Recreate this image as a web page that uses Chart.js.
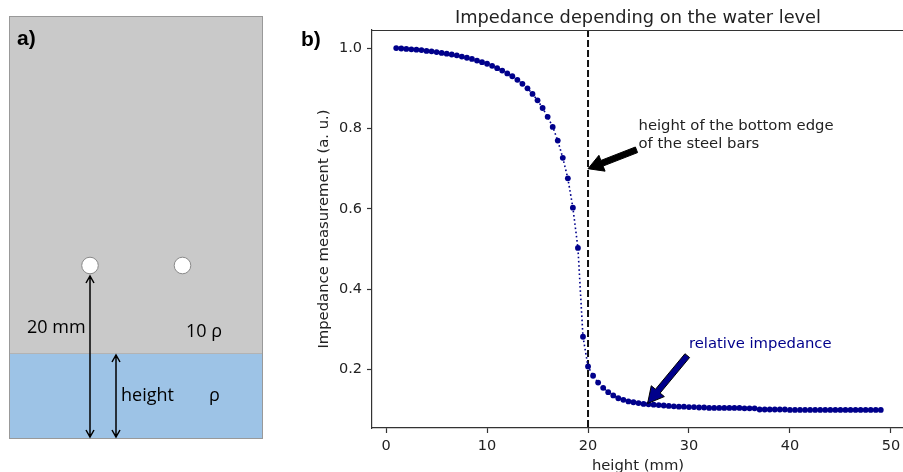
<!DOCTYPE html>
<html><head><meta charset="utf-8">
<script src="https://cdn.jsdelivr.net/npm/chart.js@4/dist/chart.umd.min.js"></script>
<style>html,body{margin:0;padding:0;background:#fff;overflow:hidden}#wrap{position:relative;width:903px;height:472px;overflow:hidden}</style>
</head><body><div id="wrap"><canvas id="c" width="908" height="472"></canvas></div>
<script>
// ---- data ----
const heights = [1,1.5,2,2.5,3,3.5,4,4.5,5,5.5,
  6,6.5,7,7.5,8,8.5,9,9.5,10,10.5,
  11,11.5,12,12.5,13,13.5,14,14.5,15,15.5,
  16,16.5,17,17.5,18,18.5,19,19.5,20,20.5,
  21,21.5,22,22.5,23,23.5,24,24.5,25,25.5,
  26,26.5,27,27.5,28,28.5,29,29.5,30,30.5,
  31,31.5,32,32.5,33,33.5,34,34.5,35,35.5,
  36,36.5,37,37.5,38,38.5,39,39.5,40,40.5,
  41,41.5,42,42.5,43,43.5,44,44.5,45,45.5,
  46,46.5,47,47.5,48,48.5,49];
const impedance = [1.000,0.999,0.998,0.997,0.996,0.995,0.993,0.992,0.990,0.988,
  0.986,0.984,0.982,0.979,0.976,0.973,0.969,0.965,0.961,0.956,
  0.950,0.944,0.937,0.930,0.921,0.911,0.900,0.886,0.870,0.851,
  0.829,0.804,0.770,0.727,0.676,0.603,0.503,0.282,0.208,0.185,
  0.168,0.155,0.144,0.136,0.129,0.125,0.121,0.119,0.117,0.115,
  0.114,0.113,0.112,0.111,0.110,0.109,0.108,0.108,0.107,0.107,
  0.106,0.106,0.105,0.105,0.105,0.105,0.105,0.105,0.105,0.104,
  0.104,0.104,0.101,0.101,0.101,0.101,0.101,0.101,0.100,0.100,
  0.100,0.100,0.100,0.100,0.100,0.100,0.100,0.100,0.100,0.100,
  0.100,0.100,0.100,0.100,0.100,0.100,0.100];
const xTicks = [0,10,20,30,40,50];
const yTicks = [0.2,0.4,0.6,0.8,1.0];
const steelBarHeight = 20;
const chartTitle = 'Impedance depending on the water level';
const xLabel = 'height (mm)';
const yLabel = 'Impedance measurement (a. u.)';
const note1Lines = ['height of the bottom edge','of the steel bars'];
const note1Tip = [20, 0.70], note1Tail = [24.8, 0.747], note1Text = [25, 0.784];
const note2Label = 'relative impedance';
const note2Tip = [25.9, 0.116], note2Tail = [29.83, 0.235], note2Text = [30, 0.264];

const NAVY = '#00008b';
const TXT = '#222';
const DV = "'DejaVu Sans', sans-serif";

function fatArrow(ctx, x0, y0, x1, y1, w, hw, hl, fill, stroke) {
  const dx = x1 - x0, dy = y1 - y0, L = Math.hypot(dx, dy);
  const ux = dx / L, uy = dy / L, nx = -uy, ny = ux;
  const bx = x1 - ux * hl, by = y1 - uy * hl;
  ctx.beginPath();
  ctx.moveTo(x0 + nx * w / 2, y0 + ny * w / 2);
  ctx.lineTo(bx + nx * w / 2, by + ny * w / 2);
  ctx.lineTo(bx + nx * hw / 2, by + ny * hw / 2);
  ctx.lineTo(x1, y1);
  ctx.lineTo(bx - nx * hw / 2, by - ny * hw / 2);
  ctx.lineTo(bx - nx * w / 2, by - ny * w / 2);
  ctx.lineTo(x0 - nx * w / 2, y0 - ny * w / 2);
  ctx.closePath();
  ctx.fillStyle = fill; ctx.fill();
  ctx.strokeStyle = stroke; ctx.lineWidth = 1; ctx.stroke();
}

function dimArrow(ctx, x, yTop, yBot) {
  ctx.beginPath();
  ctx.moveTo(x, yTop); ctx.lineTo(x, yBot);
  ctx.moveTo(x - 4, yTop + 7); ctx.lineTo(x, yTop); ctx.lineTo(x + 4, yTop + 7);
  ctx.moveTo(x - 4, yBot - 7); ctx.lineTo(x, yBot); ctx.lineTo(x + 4, yBot - 7);
  ctx.strokeStyle = '#000'; ctx.lineWidth = 1.5; ctx.stroke();
}

function drawPanelA(ctx) {
  ctx.save();
  ctx.fillStyle = '#c9c9c9'; ctx.fillRect(9.5, 16.5, 253, 337);
  ctx.fillStyle = '#9dc3e6'; ctx.fillRect(9.5, 353.5, 253, 85);
  ctx.strokeStyle = '#b3b3b3'; ctx.lineWidth = 1;
  ctx.beginPath(); ctx.moveTo(9.5, 353.5); ctx.lineTo(262.5, 353.5); ctx.stroke();
  ctx.strokeStyle = '#999'; ctx.strokeRect(9.5, 16.5, 253, 422);
  [[90, 265.5], [182.5, 265.5]].forEach(([cx, cy]) => {
    ctx.beginPath(); ctx.arc(cx, cy, 8.3, 0, Math.PI * 2);
    ctx.fillStyle = '#fff'; ctx.fill();
    ctx.strokeStyle = '#8a8a8a'; ctx.lineWidth = 1; ctx.stroke();
  });
  dimArrow(ctx, 90, 276, 437);
  dimArrow(ctx, 116, 355, 437);
  ctx.fillStyle = '#000';
  ctx.font = "bold 21px 'Liberation Sans', Arial, sans-serif";
  ctx.textBaseline = 'alphabetic'; ctx.textAlign = 'left';
  ctx.fillText('a)', 17, 45);
  ctx.font = "18px 'Open Sans', sans-serif";
  ctx.fillText('20 mm', 27, 333);
  ctx.fillText('10 ρ', 186, 337);
  ctx.fillText('height', 121, 401);
  ctx.fillText('ρ', 209, 401);
  ctx.restore();
}

const decor = {
  id: 'decor',
  beforeDraw(chart) {
    const ctx = chart.ctx;
    ctx.save(); ctx.fillStyle = '#fff'; ctx.fillRect(0, 0, chart.width, chart.height); ctx.restore();
    drawPanelA(ctx);
  },
  beforeDatasetsDraw(chart) {
    const ctx = chart.ctx, a = chart.chartArea, xs = chart.scales.x;
    const px = xs.getPixelForValue(steelBarHeight);
    ctx.save();
    ctx.strokeStyle = '#111'; ctx.lineWidth = 2; ctx.setLineDash([7, 3]);
    ctx.beginPath(); ctx.moveTo(px, a.top); ctx.lineTo(px, a.bottom); ctx.stroke();
    ctx.restore();
  },
  afterDraw(chart) {
    const ctx = chart.ctx, a = chart.chartArea, xs = chart.scales.x, ys = chart.scales.y;
    const P = (p) => [xs.getPixelForValue(p[0]), ys.getPixelForValue(p[1])];
    ctx.save();
    // top spine
    ctx.strokeStyle = '#333'; ctx.lineWidth = 1.2;
    ctx.beginPath(); ctx.moveTo(a.left, a.top + 0.5); ctx.lineTo(a.right, a.top + 0.5); ctx.stroke();
    const cx = (a.left + a.right) / 2;
    // title
    ctx.fillStyle = TXT; ctx.textAlign = 'center'; ctx.textBaseline = 'alphabetic';
    ctx.font = `17.8px ${DV}`;
    ctx.fillText(chartTitle, cx, 23);
    // axis labels
    ctx.font = `14.8px ${DV}`;
    ctx.fillText(xLabel, cx, 470);
    ctx.save();
    ctx.translate(328, (a.top + a.bottom) / 2); ctx.rotate(-Math.PI / 2);
    ctx.fillText(yLabel, 0, 0);
    ctx.restore();
    // b)
    ctx.fillStyle = '#000'; ctx.textAlign = 'left';
    ctx.font = "bold 21px 'Liberation Sans', Arial, sans-serif";
    ctx.fillText('b)', 301, 46);
    // annotation 1
    const t1 = P(note1Tip), s1 = P(note1Tail), x1 = P(note1Text);
    fatArrow(ctx, s1[0], s1[1], t1[0], t1[1], 6, 17, 15, '#000', '#000');
    ctx.fillStyle = TXT; ctx.font = `14.8px ${DV}`; ctx.textBaseline = 'middle';
    ctx.fillText(note1Lines[0], x1[0], x1[1] - 9);
    ctx.fillText(note1Lines[1], x1[0], x1[1] + 9);
    // annotation 2
    const t2 = P(note2Tip), s2 = P(note2Tail), x2 = P(note2Text);
    fatArrow(ctx, s2[0], s2[1], t2[0], t2[1], 6, 17, 16, NAVY, '#000');
    ctx.fillStyle = NAVY;
    ctx.fillText(note2Label, x2[0], x2[1]);
    ctx.restore();
  }
};

const tickFont = { family: "'DejaVu Sans', sans-serif", size: 14.5 };

new Chart(document.getElementById('c').getContext('2d'), {
  type: 'line',
  data: {
    datasets: [{
      data: heights.map((h, i) => ({ x: h, y: impedance[i] })),
      borderColor: NAVY, backgroundColor: NAVY,
      borderWidth: 1.6, borderDash: [1.6, 2.6],
      pointRadius: 2.9, pointBorderWidth: 0, pointBackgroundColor: NAVY,
      tension: 0, fill: false
    }]
  },
  options: {
    responsive: false, animation: false, devicePixelRatio: 1,
    layout: { padding: { top: 30, left: 0, right: 0, bottom: 0 } },
    plugins: { legend: { display: false }, tooltip: { enabled: false }, title: { display: false } },
    scales: {
      x: {
        type: 'linear', min: -1.4, max: 51.3,
        afterFit: s => { s.height = 44; },
        afterBuildTicks: s => { s.ticks = xTicks.map(v => ({ value: v })); },
        grid: { display: true, drawOnChartArea: false, drawTicks: true, tickLength: 5, tickColor: '#333', tickWidth: 1.2 },
        border: { display: true, color: '#333', width: 1.2 },
        ticks: { color: TXT, font: tickFont, padding: 5, maxRotation: 0, autoSkip: false, callback: v => String(v) }
      },
      y: {
        type: 'linear', min: 0.055, max: 1.045,
        afterFit: s => { s.width = 372; },
        afterBuildTicks: s => { s.ticks = yTicks.map(v => ({ value: v })); },
        grid: { display: true, drawOnChartArea: false, drawTicks: true, tickLength: 5, tickColor: '#333', tickWidth: 1.2 },
        border: { display: true, color: '#333', width: 1.2 },
        ticks: { color: TXT, font: tickFont, padding: 5, autoSkip: false, callback: v => v.toFixed(1) }
      }
    }
  },
  plugins: [decor]
});
</script></body></html>
